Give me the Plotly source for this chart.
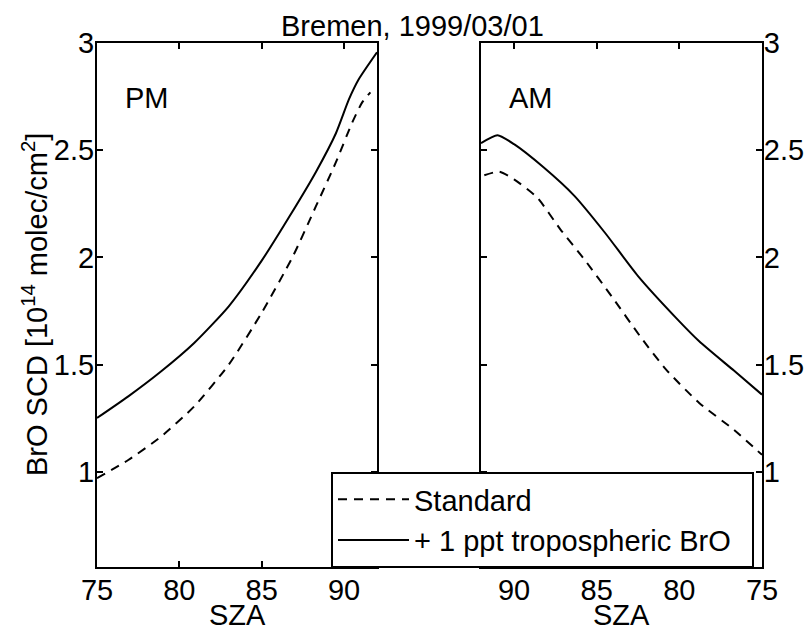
import plotly.graph_objects as go

# ---------------- data ----------------
title_text = "Bremen, 1999/03/01"

pm_sza_solid = [75.0, 76.9, 78.9, 80.9, 83.0, 85.0, 86.7, 88.3, 89.5, 90.3, 90.9, 92.0]
pm_solid = [1.251, 1.352, 1.469, 1.601, 1.772, 1.985, 2.193, 2.400, 2.578, 2.738, 2.832, 2.957]

pm_sza_dash = [75.0, 76.9, 78.9, 80.9, 83.0, 85.0, 86.9, 88.3, 89.5, 90.5, 91.1, 91.6]
pm_dash = [0.970, 1.055, 1.165, 1.305, 1.500, 1.742, 2.006, 2.240, 2.443, 2.630, 2.723, 2.770]

am_sza_solid = [92.0, 91.0, 90.0, 88.2, 86.35, 84.5, 82.5, 80.1, 78.8, 76.7, 75.0]
am_solid = [2.533, 2.570, 2.528, 2.419, 2.287, 2.115, 1.913, 1.710, 1.609, 1.472, 1.360]

am_sza_dash = [91.8, 90.9, 90.0, 88.6, 87.2, 85.75, 84.1, 82.3, 80.8, 78.8, 76.7, 75.0]
am_dash = [2.383, 2.400, 2.364, 2.279, 2.131, 1.991, 1.819, 1.624, 1.477, 1.321, 1.196, 1.079]

x_ticks = [75, 80, 85, 90]
y_ticks = [1, 1.5, 2, 2.5, 3]
y_ticktext = ["1", "1.5", "2", "2.5", "3"]
series_names = ["Standard", "+ 1 ppt tropospheric BrO&nbsp;&nbsp;"]

# ---------------- layout geometry ----------------
W, H = 808, 629
FONT = "Liberation Sans, Arial, Helvetica, sans-serif"
FS = 29

def px_x(p):
    return p / W

def px_y(p):
    return 1 - p / H

ydom = [px_y(567), px_y(43)]
xdom1 = [px_x(97), px_x(377)]
xdom2 = [px_x(481), px_x(762)]

line_solid = dict(color="black", width=2)
line_dash = dict(color="black", width=2, dash="9px,7px")

fig = go.Figure()
fig.add_trace(go.Scatter(x=pm_sza_dash, y=pm_dash, mode="lines", line=line_dash,
                         line_shape="spline", line_smoothing=0.6, name=series_names[0],
                         xaxis="x", yaxis="y", showlegend=True))
fig.add_trace(go.Scatter(x=pm_sza_solid, y=pm_solid, mode="lines", line=line_solid,
                         line_shape="spline", line_smoothing=0.6, name=series_names[1],
                         xaxis="x", yaxis="y", showlegend=True))
fig.add_trace(go.Scatter(x=am_sza_dash, y=am_dash, mode="lines", line=line_dash,
                         line_shape="spline", line_smoothing=0.6, name=series_names[0],
                         xaxis="x2", yaxis="y2", showlegend=False))
fig.add_trace(go.Scatter(x=am_sza_solid, y=am_solid, mode="lines", line=line_solid,
                         line_shape="spline", line_smoothing=0.6, name=series_names[1],
                         xaxis="x2", yaxis="y2", showlegend=False))

common_axis = dict(showline=True, linecolor="black", linewidth=2, mirror="ticks",
                   ticks="inside", ticklen=6, tickwidth=1.5, tickcolor="black",
                   showgrid=False, zeroline=False, automargin=False,
                   tickfont=dict(family=FONT, size=FS, color="black"))

fig.update_layout(
    width=W, height=H, autosize=False,
    margin=dict(l=0, r=0, t=0, b=0),
    paper_bgcolor="white", plot_bgcolor="white",
    font=dict(family=FONT, size=FS, color="black"),
    xaxis=dict(domain=xdom1, range=[75, 92], tickvals=x_ticks, anchor="y",
               ticklabelstandoff=-4, **common_axis),
    yaxis=dict(domain=ydom, range=[0.556, 3], tickvals=y_ticks, ticktext=y_ticktext,
               anchor="x", ticklabelstandoff=-5, **common_axis),
    xaxis2=dict(domain=xdom2, range=[92, 75], tickvals=x_ticks, anchor="y2",
                ticklabelstandoff=-4, **common_axis),
    yaxis2=dict(domain=ydom, range=[0.556, 3], tickvals=y_ticks, ticktext=y_ticktext,
                anchor="x2", side="right", ticklabelstandoff=-6, **common_axis),
    legend=dict(x=px_x(331), y=px_y(472), xanchor="left", yanchor="top",
                bgcolor="white", bordercolor="black", borderwidth=2,
                font=dict(family=FONT, size=FS, color="black"),
                itemwidth=71, tracegroupgap=0),
    showlegend=True,
)

annots = [
    dict(text=title_text, x=px_x(412), y=px_y(26)),
    dict(text="PM", x=px_x(146.5), y=px_y(98.5)),
    dict(text="AM", x=px_x(530.5), y=px_y(98.5)),
    dict(text="SZA", x=px_x(237), y=px_y(615)),
    dict(text="SZA", x=px_x(621.5), y=px_y(615)),
    dict(text="BrO SCD [10<sup>14</sup> molec/cm<sup>2</sup>]", x=px_x(35), y=px_y(305),
         textangle=-90),
]
for a in annots:
    fig.add_annotation(xref="paper", yref="paper", xanchor="center", yanchor="middle",
                       showarrow=False, font=dict(family=FONT, size=FS, color="black"), **a)

fig.write_html(
    "out.html",
    config={"displayModeBar": False},
    post_script="document.body.style.margin='0';document.body.style.overflow='hidden';",
)
